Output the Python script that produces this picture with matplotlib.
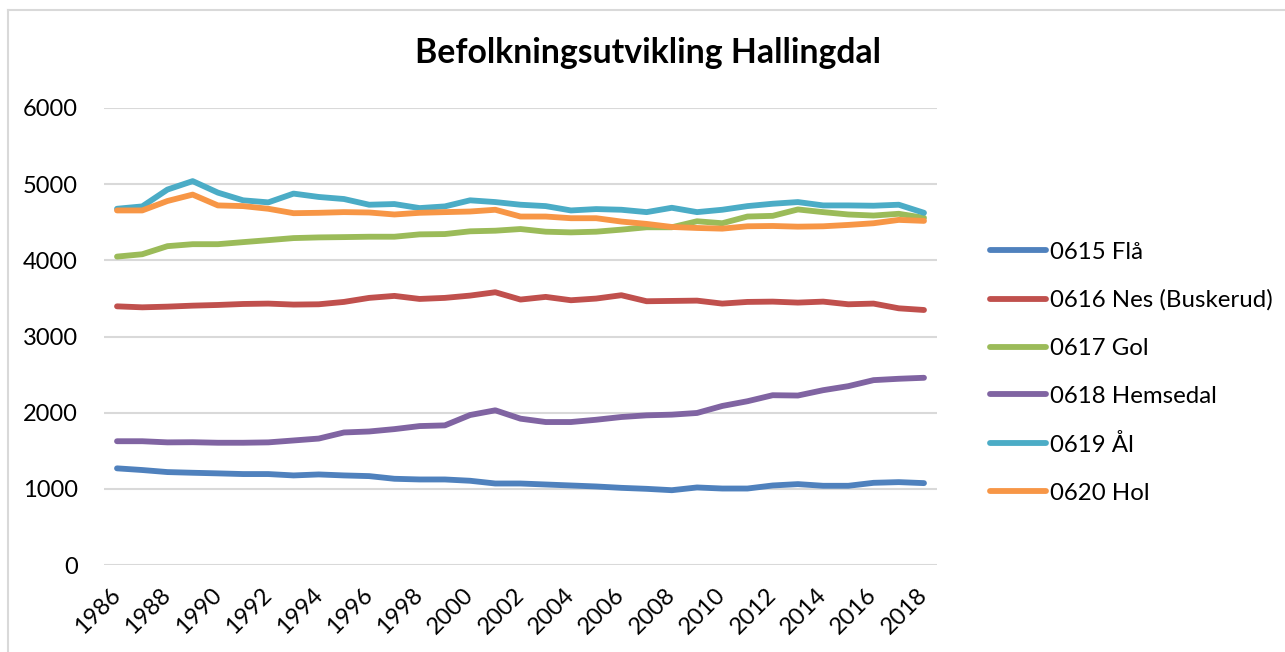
import matplotlib
matplotlib.use("Agg")
import matplotlib.pyplot as plt
from matplotlib.lines import Line2D
import matplotlib.transforms as mtransforms

years = list(range(1986, 2019))
fla = [1269, 1247, 1220, 1211, 1203, 1194, 1194, 1176, 1189, 1176, 1167, 1132, 1123, 1123, 1106, 1070,
       1070, 1057, 1044, 1031, 1013, 1000, 982, 1018, 1004, 1004, 1044, 1062, 1040, 1040, 1079, 1088, 1075]
nes = [3396, 3383, 3392, 3405, 3414, 3427, 3432, 3419, 3423, 3454, 3507, 3533, 3493, 3507, 3537, 3581,
       3485, 3520, 3476, 3498, 3542, 3463, 3467, 3471, 3432, 3454, 3458, 3445, 3458, 3423, 3432, 3370, 3348]
gol = [4049, 4080, 4186, 4212, 4212, 4239, 4265, 4292, 4301, 4305, 4310, 4310, 4341, 4345, 4381, 4389,
       4411, 4376, 4367, 4376, 4403, 4434, 4434, 4513, 4487, 4575, 4584, 4668, 4633, 4602, 4588, 4611, 4558]
hemsedal = [1625, 1625, 1610, 1612, 1605, 1605, 1610, 1635, 1660, 1740, 1753, 1784, 1824, 1833, 1969, 2031,
            1921, 1877, 1877, 1907, 1943, 1965, 1974, 1996, 2088, 2150, 2229, 2225, 2295, 2348, 2427, 2445, 2458]
aal = [4677, 4708, 4929, 5040, 4889, 4788, 4761, 4876, 4832, 4805, 4730, 4739, 4686, 4708, 4788, 4765,
       4730, 4712, 4655, 4673, 4664, 4633, 4690, 4633, 4664, 4712, 4743, 4765, 4721, 4721, 4717, 4730, 4624]
hol = [4655, 4655, 4779, 4863, 4721, 4712, 4677, 4619, 4624, 4633, 4628, 4602, 4624, 4633, 4641, 4664,
       4575, 4575, 4553, 4553, 4509, 4478, 4438, 4425, 4416, 4447, 4451, 4442, 4447, 4465, 4487, 4531, 4518]

series_names = ["0615 Flå", "0616 Nes (Buskerud)", "0617 Gol", "0618 Hemsedal", "0619 Ål", "0620 Hol"]
series_values = [fla, nes, gol, hemsedal, aal, hol]
colors = ["#4F81BD", "#C0504D", "#9BBB59", "#8064A2", "#4BACC6", "#F79646"]
yticks = [0, 1000, 2000, 3000, 4000, 5000, 6000]

plt.rcParams['font.family'] = ['Lato', 'DejaVu Sans']

W, H = 1285, 652
fig = plt.figure(figsize=(W / 100, H / 100), dpi=100)
ax = fig.add_axes([104.4 / W, (H - 565) / H, (936.6 - 104.4) / W, (565 - 108) / H])

x = list(range(len(years)))
for name, vals, c in zip(series_names, series_values, colors):
    ax.plot(x, vals, color=c, lw=4.2, solid_capstyle='round', solid_joinstyle='round', label=name)

ax.set_xlim(-0.5, len(years) - 0.5)
ax.set_ylim(0, 6000)
ax.set_yticks(yticks)
ax.set_yticklabels([str(v) for v in yticks], fontsize=17)
ax.set_xticks(x[::2])
ax.set_xticklabels([str(y) for y in years[::2]], fontsize=17, rotation=45,
                   ha='right', va='center', rotation_mode='anchor')
offset = mtransforms.ScaledTranslation(10 / 100, 0, fig.dpi_scale_trans)
for lab in ax.get_xticklabels():
    lab.set_transform(lab.get_transform() + offset)
ax.tick_params(axis='both', length=0)
ax.tick_params(axis='y', pad=19)
ax.tick_params(axis='x', pad=19)
ax.grid(axis='y', color='#D9D9D9', lw=1.5)
ax.set_axisbelow(True)
for s in ax.spines.values():
    s.set_visible(False)

fig.text(648 / W, 1 - 53 / H, "Befolkningsutvikling Hallingdal", fontsize=24.3, fontweight='bold',
         ha='center', va='center')

leg = ax.legend(loc='upper left', bbox_to_anchor=(980 / W, 1 - 232 / H), bbox_transform=fig.transFigure,
                frameon=False, fontsize=17.3, handlelength=2.33, handletextpad=0.18, labelspacing=1.12,
                borderaxespad=0)

# chart frame (top and left edges visible)
fig.add_artist(Line2D([8 / W, 8 / W], [0, 1 - 9.5 / H], transform=fig.transFigure, color='#D9D9D9', lw=1.5))
fig.add_artist(Line2D([8 / W, 1], [1 - 9.5 / H, 1 - 9.5 / H], transform=fig.transFigure, color='#D9D9D9', lw=1.5))

fig.savefig("out.png", dpi=100, facecolor='white')
